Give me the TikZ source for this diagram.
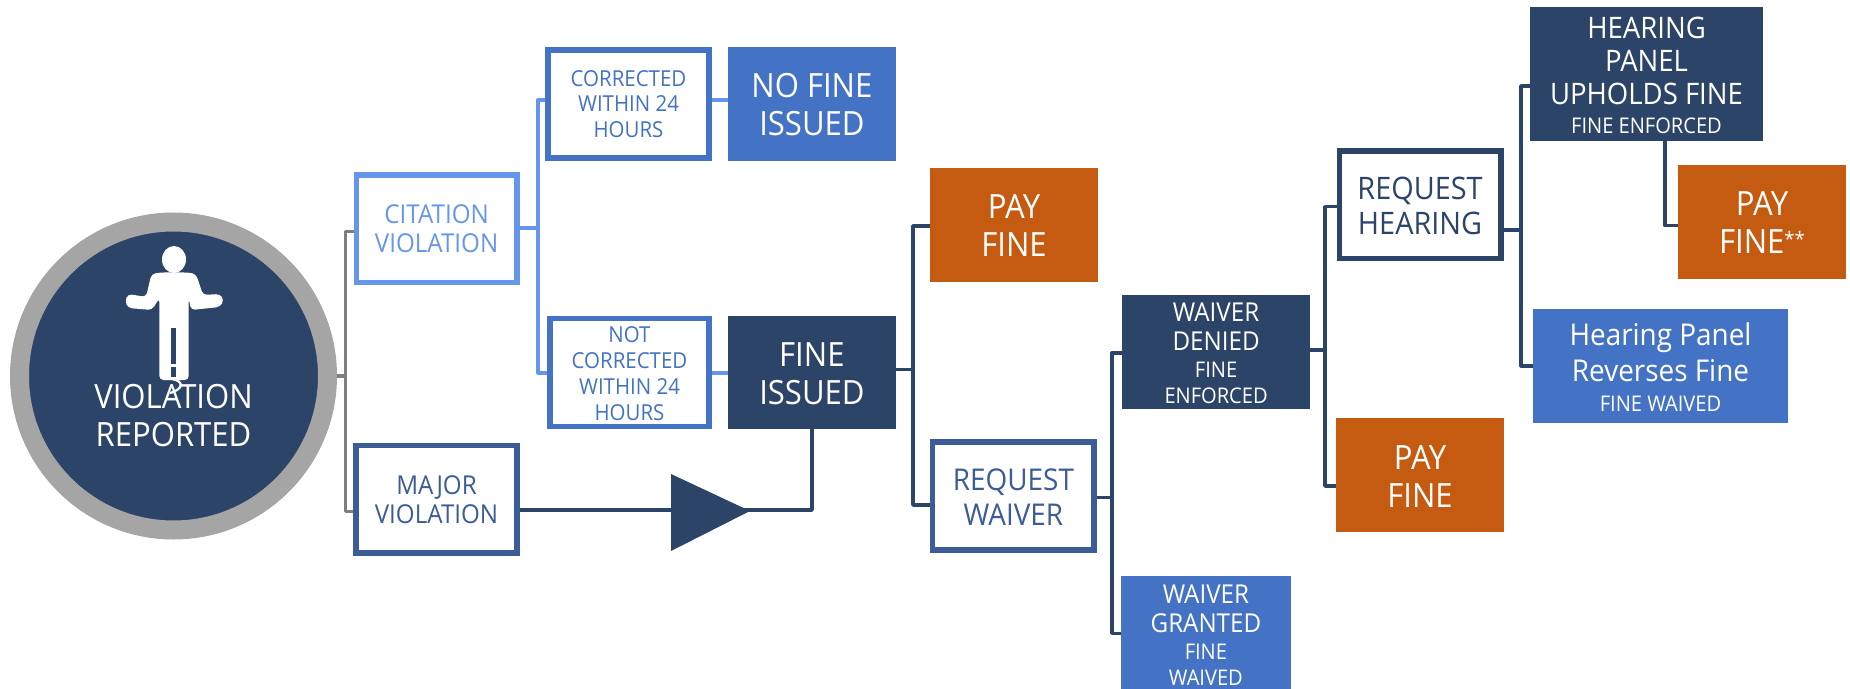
\documentclass[tikz,border=0pt]{standalone}
\usepackage{fontspec}
\setmainfont{Open Sans}[FakeStretch=0.93]
\definecolor{navy}{HTML}{2D4469}
\definecolor{midblue}{HTML}{3B5C96}
\definecolor{stdblue}{HTML}{4472C4}
\definecolor{lightblue}{HTML}{6596EC}
\definecolor{orange}{HTML}{C55A11}
\definecolor{ringgray}{HTML}{A5A5A5}
\definecolor{conngray}{HTML}{7F7F7F}
\newcommand{\fsz}[2]{\fontsize{#1}{#2}\selectfont}
\newcommand{\wvs}{\fsz{10.8}{12.6}}
\newcommand{\tp}[1]{\rule{0pt}{#1pt}}
\tikzset{
  x=0.5pt,y=-0.5pt,
  wh/.style n args={2}{minimum width=#1*0.5pt,minimum height=#2*0.5pt},
  base/.style={rectangle,inner sep=0pt,outer sep=0pt,align=center},
  outl/.style={base,draw=#1,fill=white,text=#1,line width=2.8pt,outer sep=1.4pt},
  solid box/.style={base,fill=#1,text=white},
  big/.style={font=\fsz{16.7}{19}},
  mid/.style={font=\fsz{13}{14.6}},
  small/.style={font=\fsz{11}{12.9}},
  req/.style={font=\fsz{15}{17.2}},
  wv/.style={font=\fsz{13}{14.3}},
  hp/.style={font=\fsz{14.8}{16.7}},
  rv/.style={font=\fsz{15}{17.8}},
  nconn/.style={draw=navy,line width=1.8pt,line join=round},
  lconn/.style={draw=lightblue,line width=1.9pt,line join=round},
  gconn/.style={draw=conngray,line width=1.6pt,line join=round},
}
\begin{document}
\begin{tikzpicture}
\useasboundingbox (0,0) rectangle (1850,689);
% junction coordinates
\coordinate (ga) at (345.4,231.7);
\coordinate (gb) at (345.4,511.7);
\coordinate (la) at (538.2,100);
\coordinate (lb) at (538.2,372.7);
\coordinate (lc) at (538.2,228.3);
\coordinate (fa) at (913,226);
\coordinate (fb) at (913,505);
\coordinate (fc) at (913,369.3);
\coordinate (wa) at (1112.2,352.7);
\coordinate (wb) at (1112.2,633.3);
\coordinate (wc) at (1112.2,497.3);
\coordinate (da) at (1325,206.7);
\coordinate (db) at (1325,486);
\coordinate (dc) at (1325,350);
\coordinate (ha) at (1521,86);
\coordinate (hb) at (1521,365.7);
\coordinate (hc) at (1521,230);
\coordinate (ua) at (1665,225.7);
\coordinate (ma) at (812,510);

% circle
\node[circle,draw=ringgray,fill=navy,line width=9.5pt,minimum size=154pt,inner sep=0pt,outer sep=4.75pt] (circ) at (173.5,376) {};

% person
\fill[white] (174,259.5) ellipse [x radius=12,y radius=13.5];
\fill[white,rounded corners=2pt] (151.5,274) -- (160,272.5) -- (188,272.5) -- (196,274) -- (203,295) -- (220,294) -- (224,300) -- (220,307) -- (191,310) -- (188.7,298) -- (188.7,380) -- (159.4,380) -- (159.4,298) -- (152,310) -- (128,308) -- (125,301) -- (128,294) -- (146,297) -- cycle;
\fill[navy] (171,328) rectangle (176,364);
\fill[navy] (171,367) rectangle (176,377);
\draw[white,line width=1.1pt] (172,379) .. controls (184,381) and (184,389) .. (170,393);
\node[base,text=white,big] (vr) at (173.5,416) {VIOLATION\\REPORTED};

% boxes
\node[outl=lightblue,wh={160.6}{107.7},mid] (citation) at (436.6,228.6) {CITATION\\VIOLATION};
\node[outl=midblue,wh={161.5}{107.7},mid] (major) at (436.5,499.2) {\tp{10.3}MAJOR\\VIOLATION};
\node[outl=stdblue,wh={161.5}{107.7},small] (corrected) at (628.5,104) {CORRECTED\\WITHIN 24\\HOURS};
\node[outl=stdblue,wh={159.5}{107.7},small] (notcorrected) at (629.5,372.5) {\tp{9}NOT\\CORRECTED\\WITHIN 24\\HOURS};
\node[solid box=stdblue,wh={167.7}{113.4},big] (nofine) at (811.9,104) {\tp{13.1}NO FINE\\ISSUED};
\node[solid box=navy,wh={167.7}{113},big] (fine) at (811.9,372.5) {\tp{13.1}FINE\\ISSUED};
\node[solid box=orange,wh={168}{113.7},big] (pay1) at (1014,224.8) {\tp{12.5}PAY\\FINE};
\node[outl=midblue,wh={161.7}{108},req] (reqw) at (1013.4,495.8) {\tp{12}REQUEST\\WAIVER};
\node[solid box=navy,wh={188.2}{113.7},wv] (denied) at (1216.1,351.8) {\tp{11.1}WAIVER\\DENIED\\[-0.6pt]\wvs FINE\\[-1.4pt]\wvs ENFORCED};
\node[solid box=stdblue,wh={170.2}{113},wv] (granted) at (1205.9,632.5) {\tp{11.9}WAIVER\\GRANTED\\[-0.6pt]\wvs FINE\\[-1.4pt]\wvs WAIVED};
\node[outl=navy,wh={161.4}{107.8},font=\fsz{15.5}{17.5}] (reqh) at (1420,204.7) {\tp{12}REQUEST\\HEARING};
\node[solid box=orange,wh={168}{114},big] (pay2) at (1420,475) {\tp{13.1}PAY\\FINE};
\node[solid box=navy,wh={232.3}{133.7},hp] (upholds) at (1646.5,74.2) {\tp{11.8}HEARING\\PANEL\\[-0.2pt]UPHOLDS FINE\\[-2.5pt]\wvs FINE ENFORCED};
\node[solid box=orange,wh={168}{113.7},big] (pay3) at (1762,221.8) {\tp{13.1}PAY\\FINE\raisebox{3.5pt}{\fsz{10}{12}**}};
\node[solid box=stdblue,wh={255}{113.7},rv] (reverses) at (1660.5,365.8) {\tp{12.6}Hearing Panel\\Reverses Fine\\[-2.8pt]\wvs FINE WAIVED};

% connectors
\draw[gconn] (citation.west |- ga) -- (ga) -- (gb) -- (major.west |- gb);
\draw[gconn] (circ.east) -- (circ.east -| ga);
\draw[lconn] (corrected.west |- la) -- (la) -- (lb) -- (notcorrected.west |- lb);
\draw[lconn] (citation.east |- lc) -- (lc);
\draw[lconn] (corrected.east |- la) -- (nofine.west |- la);
\draw[lconn] (notcorrected.east |- lb) -- (fine.west |- lb);
\draw[nconn] (fine.east |- fc) -- (fc);
\draw[nconn] (pay1.west |- fa) -- (fa) -- (fb) -- (reqw.west |- fb);
\draw[nconn] (reqw.east |- wc) -- (wc);
\draw[nconn] (denied.west |- wa) -- (wa) -- (wb) -- (granted.west |- wb);
\draw[nconn] (denied.east |- dc) -- (dc);
\draw[nconn] (reqh.west |- da) -- (da) -- (db) -- (pay2.west |- db);
\draw[nconn] (reqh.east |- hc) -- (hc);
\draw[nconn] (upholds.west |- ha) -- (ha) -- (hb) -- (reverses.west |- hb);
\draw[nconn] (upholds.south -| ua) -- (ua) -- (ua -| pay3.west);
\draw[nconn] (major.east |- ma) -- (ma) -- (fine.south -| ma);
\fill[navy] (671,474) -- (750,511) -- (671,551) -- cycle;
\end{tikzpicture}
\end{document}
